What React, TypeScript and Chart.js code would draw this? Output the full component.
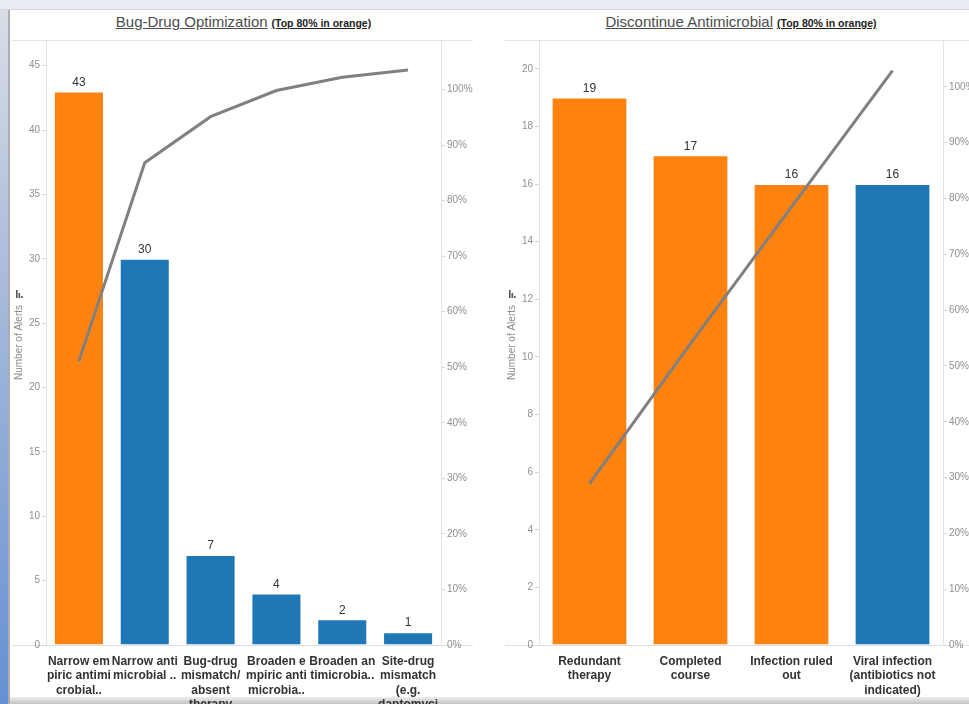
import React, { useEffect, useRef } from "react";
import { Chart, registerables } from "chart.js";

Chart.register(...registerables);

// ---- Bug-Drug Optimization ----
const bugDrugCategories = [
  ["Narrow em", "piric antimi", "crobial.."],
  ["Narrow anti", "microbial .."],
  ["Bug-drug", "mismatch/", "absent", "therapy"],
  ["Broaden e", "mpiric anti", "microbia.."],
  ["Broaden an", "timicrobia.."],
  ["Site-drug", "mismatch", "(e.g.", "daptomyci"],
];
const bugDrugAlerts = [43, 30, 7, 4, 2, 1];
const bugDrugCumulativePct = [51.1, 86.8, 95.1, 99.8, 102.2, 103.5];
const bugDrugTop80 = [true, false, false, false, false, false];

// ---- Discontinue Antimicrobial ----
const discontinueCategories = [
  ["Redundant", "therapy"],
  ["Completed", "course"],
  ["Infection ruled", "out"],
  ["Viral infection", "(antibiotics not", "indicated)"],
];
const discontinueAlerts = [19, 17, 16, 16];
const discontinueCumulativePct = [28.9, 54.0, 78.5, 102.9];
const discontinueTop80 = [true, true, true, false];

const ORANGE = "#fd820f";
const BLUE = "#1f78b6";
const LINE_GREY = "#808080";
const SANS = "'Liberation Sans', Arial, sans-serif";

type PanelSpec = {
  categories: string[][];
  alerts: number[];
  cumulative: number[];
  top80: boolean[];
  alertMax: number;
  alertStep: number;
  pctMax: number;
  leftAxisWidth: number;
  rightAxisWidth: number;
  axisTitlePad: number;
  barPercentage: number;
};

// value labels above bars and the small sort glyph next to the axis title
const decorations = {
  id: "decorations",
  afterDatasetsDraw(chart: any) {
    const ctx = chart.ctx;
    const meta = chart.getDatasetMeta(0);
    const values = chart.data.datasets[0].data;
    ctx.save();
    ctx.font = `12px ${SANS}`;
    ctx.fillStyle = "#333";
    ctx.textAlign = "center";
    ctx.textBaseline = "bottom";
    meta.data.forEach((bar: any, i: number) => {
      ctx.fillText(String(values[i]), bar.x, bar.y - 3);
    });

    const y = chart.scales.y;
    const pad = y.options.title.padding.top ?? 0;
    const cx = y.left + 6 + pad;
    ctx.font = `10px ${SANS}`;
    const len = ctx.measureText(y.options.title.text).width;
    const bottom = (y.top + y.bottom) / 2 - len / 2 - 7;
    ctx.fillStyle = "#555";
    ctx.fillRect(cx - 3, bottom - 8, 1.6, 8);
    ctx.fillRect(cx - 0.5, bottom - 5, 1.6, 5);
    ctx.fillRect(cx + 2, bottom - 2, 1.6, 2);
    ctx.restore();
  },
};

function buildConfig(p: PanelSpec): any {
  const tickFont = { family: SANS, size: 10 };
  const axisGrid = {
    drawOnChartArea: false,
    drawTicks: true,
    tickLength: 4,
    color: "#d6d6d6",
  };
  const fixWidth = (w: number) => (s: any) => {
    s.width = w;
    s.paddingTop = 0;
    s.paddingBottom = 0;
  };
  return {
    type: "bar",
    data: {
      labels: p.categories,
      datasets: [
        {
          type: "bar",
          data: p.alerts,
          yAxisID: "y",
          order: 1,
          backgroundColor: p.top80.map((t) => (t ? ORANGE : BLUE)),
          borderColor: "rgba(255,255,255,0.35)",
          borderWidth: 1,
          barPercentage: p.barPercentage,
          categoryPercentage: 1,
        },
        {
          type: "line",
          data: p.cumulative,
          yAxisID: "pct",
          order: 0,
          borderColor: LINE_GREY,
          borderWidth: 3,
          pointRadius: 0,
          fill: false,
          tension: 0,
        },
      ],
    },
    options: {
      responsive: false,
      maintainAspectRatio: false,
      animation: false,
      devicePixelRatio: 1,
      layout: { padding: 0 },
      plugins: {
        legend: { display: false },
        title: { display: false },
        tooltip: { enabled: false },
      },
      scales: {
        x: {
          offset: true,
          grid: { display: false },
          border: { display: false },
          ticks: {
            autoSkip: false,
            maxRotation: 0,
            minRotation: 0,
            padding: 1,
            color: "#333",
            font: { family: SANS, size: 12, weight: "bold", lineHeight: 1.21 },
          },
          afterFit: (s: any) => {
            s.height = 59;
          },
        },
        y: {
          position: "left",
          min: 0,
          max: p.alertMax,
          grid: axisGrid,
          border: { display: true, color: "#e2e2e2" },
          ticks: {
            stepSize: p.alertStep,
            includeBounds: false,
            padding: 2,
            color: "#8f8f8f",
            font: tickFont,
          },
          title: {
            display: true,
            text: "Number of Alerts",
            color: "#8a8a8a",
            font: { family: SANS, size: 10 },
            padding: { top: p.axisTitlePad, bottom: 0 },
          },
          afterFit: fixWidth(p.leftAxisWidth),
        },
        pct: {
          position: "right",
          min: 0,
          max: p.pctMax,
          grid: axisGrid,
          border: { display: true, color: "#e2e2e2" },
          ticks: {
            stepSize: 10,
            includeBounds: false,
            padding: 2,
            color: "#8f8f8f",
            font: tickFont,
            callback: (v: any) => `${v}%`,
          },
          afterFit: fixWidth(p.rightAxisWidth),
        },
      },
    },
    plugins: [decorations],
  };
}

function ParetoCanvas(props: { spec: PanelSpec; left: number; width: number }) {
  const ref = useRef<HTMLCanvasElement | null>(null);
  useEffect(() => {
    if (!ref.current) return;
    const chart = new Chart(ref.current, buildConfig(props.spec));
    return () => chart.destroy();
  }, []);
  return (
    <canvas
      ref={ref}
      width={props.width}
      height={664}
      style={{
        position: "absolute",
        left: props.left,
        top: 40,
        width: props.width,
        height: 664,
        zIndex: 2,
      }}
    />
  );
}

function PanelTitle(props: { left: number; width: number; main: string }) {
  return (
    <div
      style={{
        position: "absolute",
        left: props.left,
        top: 13,
        width: props.width,
        textAlign: "center",
        fontFamily: SANS,
        whiteSpace: "nowrap",
        zIndex: 3,
      }}
    >
      <span
        style={{
          fontSize: 15,
          color: "#4d4d4d",
          textDecoration: "underline",
        }}
      >
        {props.main}
      </span>
      <span
        style={{
          fontSize: 10.5,
          fontWeight: "bold",
          color: "#222",
          textDecoration: "underline",
          marginLeft: 4,
        }}
      >
        (Top 80% in orange)
      </span>
    </div>
  );
}

const bugDrugSpec: PanelSpec = {
  categories: bugDrugCategories,
  alerts: bugDrugAlerts,
  cumulative: bugDrugCumulativePct,
  top80: bugDrugTop80,
  alertMax: 47,
  alertStep: 5,
  pctMax: 108.9,
  leftAxisWidth: 38,
  rightAxisWidth: 39,
  axisTitlePad: 5,
  barPercentage: 0.76,
};

const discontinueSpec: PanelSpec = {
  categories: discontinueCategories,
  alerts: discontinueAlerts,
  cumulative: discontinueCumulativePct,
  top80: discontinueTop80,
  alertMax: 21,
  alertStep: 2,
  pctMax: 108.4,
  leftAxisWidth: 39,
  rightAxisWidth: 47,
  axisTitlePad: 6,
  barPercentage: 0.75,
};

function Rule(props: { left: number; top: number; width: number; height: number; color: string }) {
  return (
    <div
      style={{
        position: "absolute",
        left: props.left,
        top: props.top,
        width: props.width,
        height: props.height,
        background: props.color,
        zIndex: 1,
      }}
    />
  );
}

export default function App() {
  return (
    <div
      style={{
        position: "fixed",
        left: 0,
        top: 0,
        width: 969,
        height: 704,
        overflow: "hidden",
        background: "#ffffff",
      }}
    >
      {/* window chrome */}
      <div
        style={{
          position: "absolute",
          left: 0,
          top: 0,
          width: 969,
          height: 9,
          background: "#e9edf3",
          borderBottom: "1px solid #d2d7df",
        }}
      />
      <div
        style={{
          position: "absolute",
          left: 0,
          top: 10,
          width: 8,
          height: 694,
          background: "linear-gradient(to bottom, #d9dee6, #b3c2dc 30%, #6690d2)",
        }}
      />
      <Rule left={8} top={10} width={2} height={694} color="#a9adb3" />
      <div
        style={{
          position: "absolute",
          left: 10,
          top: 697,
          width: 959,
          height: 7,
          background: "linear-gradient(to bottom, #eeeeee, #c2c2c2)",
          zIndex: 1,
        }}
      />

      {/* header separators and base rules */}
      <Rule left={12} top={40} width={461} height={1} color="#e4e4e4" />
      <Rule left={505} top={40} width={464} height={1} color="#e4e4e4" />
      <Rule left={12} top={645} width={461} height={1} color="#e0e0e0" />
      <Rule left={505} top={645} width={464} height={1} color="#e0e0e0" />

      <PanelTitle left={12} width={463} main="Bug-Drug Optimization" />
      <PanelTitle left={505} width={472} main="Discontinue Antimicrobial" />

      <ParetoCanvas spec={bugDrugSpec} left={8} width={472} />
      <ParetoCanvas spec={discontinueSpec} left={500} width={490} />
    </div>
  );
}
